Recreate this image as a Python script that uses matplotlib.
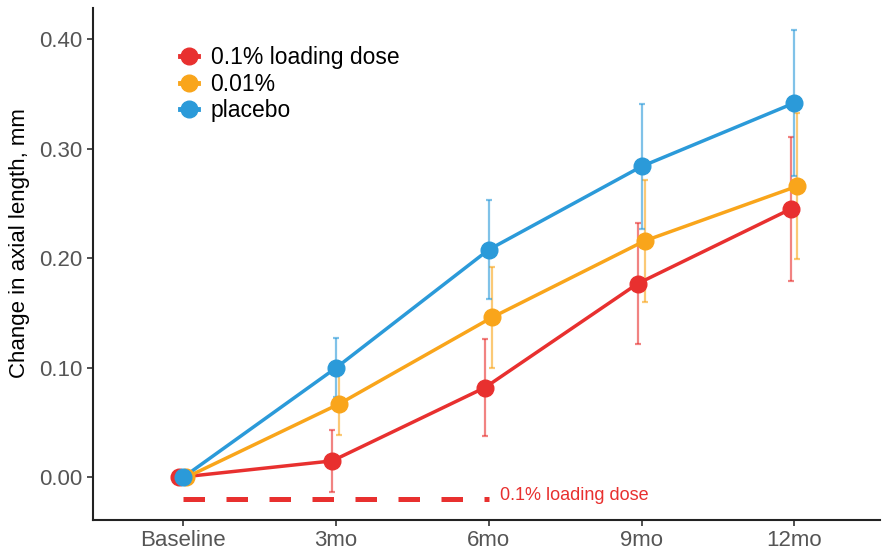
import numpy as np
import matplotlib
matplotlib.use('Agg')
import matplotlib.pyplot as plt
from matplotlib.lines import Line2D

plt.rcParams['font.family'] = ['Liberation Sans', 'DejaVu Sans']

timepoints = ['Baseline', '3mo', '6mo', '9mo', '12mo']
groups = ['0.1% loading dose', '0.01%', 'placebo']
colors = ['#E8302F', '#F9A51B', '#2B9AD9']

red_mean = [0.0, 0.015, 0.082, 0.177, 0.245]
red_err = [0.0, 0.028, 0.044, 0.055, 0.066]
orange_mean = [0.0, 0.067, 0.146, 0.216, 0.266]
orange_err = [0.0, 0.028, 0.046, 0.056, 0.067]
blue_mean = [0.0, 0.100, 0.208, 0.284, 0.342]
blue_err = [0.0, 0.027, 0.045, 0.057, 0.067]

means = [red_mean, orange_mean, blue_mean]
errs = [red_err, orange_err, blue_err]
dodge = [-0.025, 0.02, 0.0]


def main():
    fig = plt.figure(figsize=(8.87, 5.52), dpi=100)
    ax = fig.add_axes([0.105, 0.058, 0.887, 0.928])

    x = np.arange(len(timepoints))
    for m, e, c, d in zip(means, errs, colors, dodge):
        xs = x + d
        ax.errorbar(xs, m, yerr=e, fmt='none', ecolor=c, alpha=0.6,
                    elinewidth=1.6, capsize=2, capthick=1.6, zorder=2)
        ax.plot(xs, m, color=c, linewidth=2.5, zorder=3)
        ax.plot(xs, m, 'o', color=c, markersize=12, zorder=4)

    # loading dose period
    ax.plot([0, 2], [-0.02, -0.02], color='#E8302F', linewidth=3.6,
            dashes=(4.3, 4.3))
    ax.text(2.07, -0.0165, '0.1% loading dose', color='#E8302F',
            fontsize=13, va='center', ha='left')

    handles = [Line2D([0], [0], color=c, marker='o', markersize=12,
                      linewidth=3.5) for c in colors]
    ax.legend(handles, groups, loc='upper left', bbox_to_anchor=(0.11, 0.925),
              frameon=False, fontsize=16.5, handlelength=0.8, borderpad=0,
              borderaxespad=0, handletextpad=0.55, labelspacing=0.15)

    ax.set_xlim(-0.59, 4.56)
    ax.set_ylim(-0.039, 0.429)
    ax.set_xticks(x)
    ax.set_xticklabels(timepoints)
    ax.set_yticks([0.0, 0.1, 0.2, 0.3, 0.4])
    ax.set_yticklabels(['0.00', '0.10', '0.20', '0.30', '0.40'])
    ax.tick_params(axis='both', labelsize=16, labelcolor='#555555',
                   color='#333333', length=4, width=1.2)
    ax.set_ylabel('Change in axial length, mm', fontsize=16)
    ax.yaxis.set_label_coords(-0.08, 0.54)

    for side in ['top', 'right']:
        ax.spines[side].set_visible(False)
    for side in ['left', 'bottom']:
        ax.spines[side].set_linewidth(1.5)
        ax.spines[side].set_color('#222222')

    fig.savefig('out.png', dpi=100)


if __name__ == "__main__":
    main()
